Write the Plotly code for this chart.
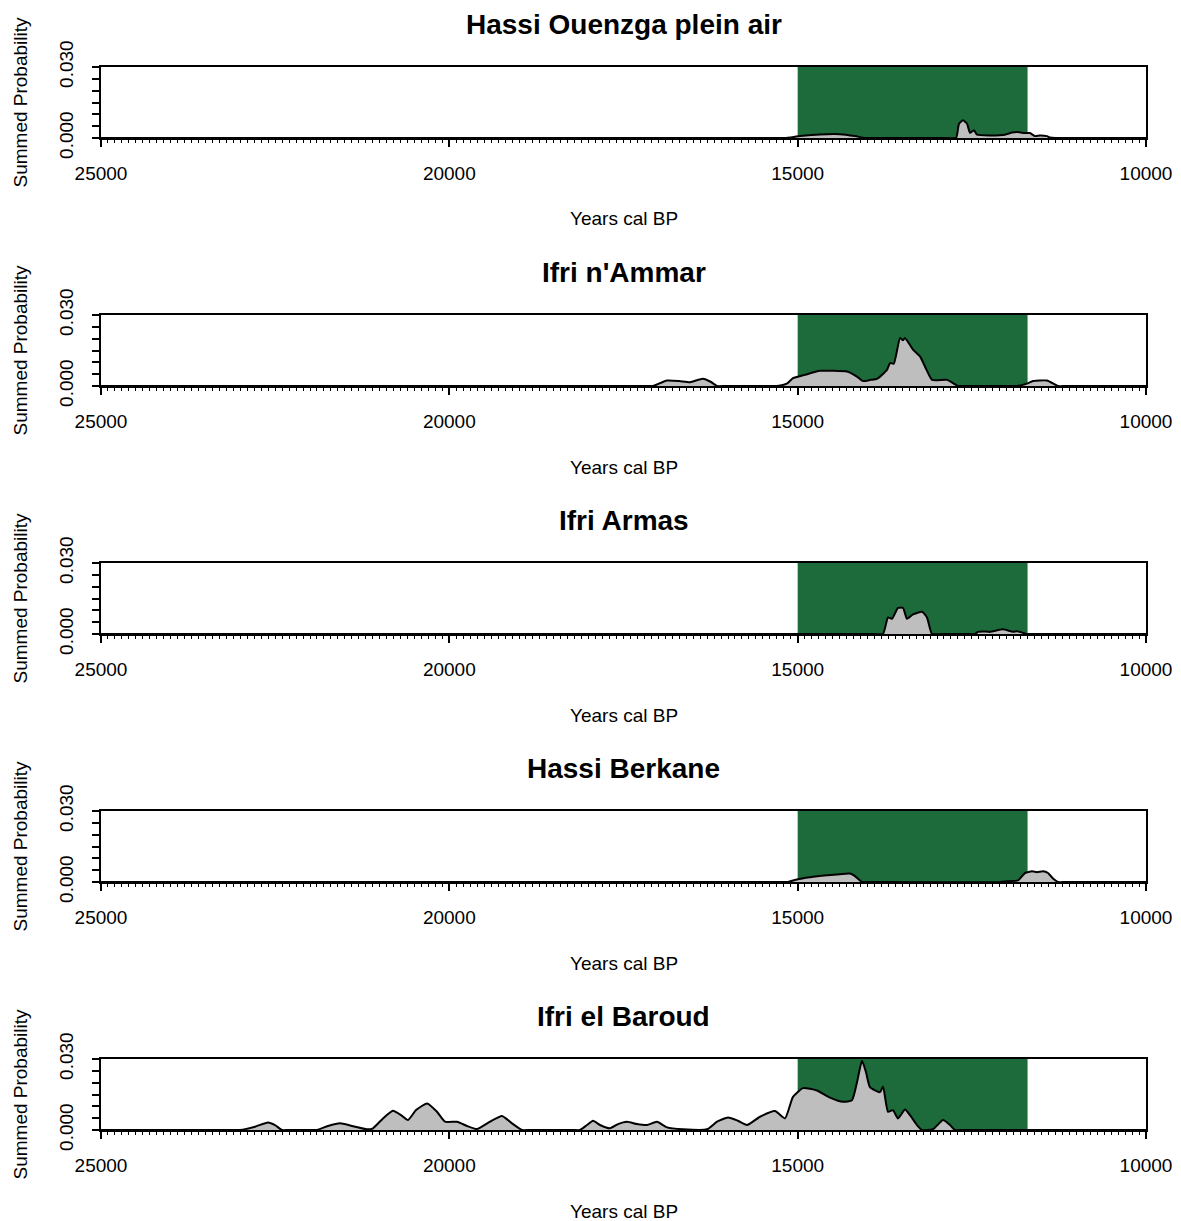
import plotly.graph_objects as go

# ---------------- data (years cal BP, summed probability) ----------------
site_names = ["Hassi Ouenzga plein air", "Ifri n'Ammar", "Ifri Armas", "Hassi Berkane", "Ifri el Baroud"]

ouenzga_years = [25000, 15300, 15182, 14967, 14680, 14392, 14177, 14034, 13900, 12850, 12727, 12684,
                 12627, 12569, 12526, 12469, 12426, 12239, 12024, 11924, 11837, 11766, 11665, 11593,
                 11522, 11421, 11378, 11300, 11180, 10000]
ouenzga_spd = [0, 0, 0, 0.0008, 0.0015, 0.0016, 0.0008, 0, 0, 0, 0, 0.0060,
               0.0075, 0.0060, 0.0022, 0.0033, 0.0014, 0.0011, 0.0014, 0.0023, 0.0025, 0.0021, 0.0021, 0.0008,
               0.0011, 0.0008, 0.0002, 0, 0, 0]

ammar_years = [25000, 17200, 17077, 16876, 16700, 16545, 16359, 16250, 16158, 16050, 15400, 15297,
               15150, 15067, 14900, 14680, 14292, 14150, 14062, 13950, 13861, 13718, 13675, 13620,
               13531, 13488, 13459, 13345, 13244, 13150, 13072, 12857, 12750, 12699, 12600, 11950,
               11852, 11700, 11622, 11421, 11263, 11150, 10000]
ammar_spd = [0, 0, 0, 0.0023, 0.0021, 0.0016, 0.0031, 0.0018, 0, 0, 0, 0,
             0.0011, 0.0033, 0.0047, 0.0064, 0.0061, 0.0040, 0.0021, 0.0026, 0.0030, 0.0068, 0.0097, 0.0094,
             0.0203, 0.0193, 0.0203, 0.0154, 0.0125, 0.0068, 0.0026, 0.0026, 0.0009, 0, 0, 0,
             0, 0.0011, 0.0021, 0.0023, 0, 0, 0]

armas_years = [25000, 13900, 13775, 13703, 13646, 13560, 13488, 13430, 13345, 13215, 13144, 13072,
               12950, 12570, 12455, 12412, 12340, 12239, 12053, 11909, 11852, 11708, 11600, 10000]
armas_spd = [0, 0, 0, 0.0070, 0.0064, 0.0110, 0.0110, 0.0064, 0.0083, 0.0094, 0.0070, 0,
             0, 0, 0, 0.0009, 0.0011, 0.0009, 0.0020, 0.0009, 0.0012, 0, 0, 0]

berkane_years = [25000, 15250, 15139, 15010, 14823, 14579, 14249, 14177, 14077, 13950, 12100, 11995,
                 11837, 11737, 11636, 11565, 11479, 11407, 11335, 11263, 11150, 10000]
berkane_spd = [0, 0, 0, 0.0011, 0.0020, 0.0028, 0.0036, 0.0025, 0, 0, 0, 0.0003,
               0.0007, 0.0038, 0.0045, 0.0041, 0.0045, 0.0038, 0.0015, 0, 0, 0]

baroud_years = [25000, 23120, 23005, 22789, 22603, 22502, 22402, 22300, 22000, 21900, 21742, 21569,
                21397, 21182, 21096, 20952, 20809, 20694, 20593, 20478, 20321, 20177, 20062, 19890,
                19746, 19603, 19416, 19244, 19101, 18957, 18850, 18230, 18124, 18024, 17938, 17837,
                17694, 17579, 17450, 17306, 17163, 17019, 16876, 16646, 16301, 16158, 16000, 15857,
                15727, 15541, 15325, 15182, 15067, 14923, 14723, 14536, 14349, 14220, 14148, 14077,
                14019, 13962, 13818, 13775, 13703, 13632, 13560, 13459, 13388, 13287, 13215, 13058,
                12914, 12813, 12742, 12640, 10000]
baroud_spd = [0, 0, 0, 0.0014, 0.0032, 0.0021, 0, 0, 0, 0, 0.0017, 0.0028,
              0.0017, 0.0003, 0.0007, 0.0049, 0.0081, 0.0063, 0.0042, 0.0084, 0.0112, 0.0077, 0.0035, 0.0035,
              0.0017, 0.0004, 0.0035, 0.0059, 0.0028, 0, 0, 0, 0, 0.0021, 0.0039, 0.0021,
              0.0007, 0.0025, 0.0035, 0.0025, 0.0021, 0.0035, 0.0011, 0.0003, 0.0003, 0.0035, 0.0053, 0.0039,
              0.0021, 0.0056, 0.0080, 0.0049, 0.0140, 0.0177, 0.0167, 0.0137, 0.0119, 0.0126, 0.0202, 0.0293,
              0.0244, 0.0181, 0.0160, 0.0184, 0.0077, 0.0084, 0.0049, 0.0087, 0.0063, 0.0021, 0, 0.0003,
              0.0042, 0.0021, 0, 0, 0]

series_years = [ouenzga_years, ammar_years, armas_years, berkane_years, baroud_years]
series_spd = [ouenzga_spd, ammar_spd, armas_spd, berkane_spd, baroud_spd]

x_range = [25000, 10000]
x_ticks = [25000, 20000, 15000, 10000]
y_range = [0, 0.03]
y_ticks = [0, 0.005, 0.010, 0.015, 0.020, 0.025, 0.030]
y_ticktext = ["0.000", "", "", "", "", "", "0.030"]
period_start, period_end = 15000, 11700

# ---------------- layout geometry (window pixels) ----------------
W, H = 1181, 1221
X0, X1 = 101, 1146
TOPS = [67, 315, 563, 811, 1059]
PH = 71
FONT = "Liberation Sans, Arial, Helvetica, sans-serif"
GREEN = "#1d6a3b"
GREY = "#bebebe"


def px(x):
    return x / W


def py(y):
    return 1 - y / H


fig = go.Figure()
layout = dict(
    width=W, height=H, autosize=False,
    margin=dict(l=0, r=0, t=0, b=0, pad=0, autoexpand=False),
    paper_bgcolor="white", plot_bgcolor="white",
    showlegend=False,
    font=dict(family=FONT, color="black", size=19),
)
shapes = []
annotations = []

for i in range(5):
    n = "" if i == 0 else str(i + 1)
    top = TOPS[i]
    bot = top + PH
    fig.add_trace(go.Scatter(
        x=series_years[i], y=series_spd[i], mode="lines",
        fill="tozeroy", fillcolor=GREY,
        line=dict(color="black", width=2, shape="spline", smoothing=0.5),
        xaxis="x" + n, yaxis="y" + n, hoverinfo="skip",
    ))
    layout["xaxis" + n] = dict(
        domain=[px(X0), px(X1)], anchor="y" + n, automargin=False,
        range=x_range, autorange=False,
        tickmode="array", tickvals=x_ticks, ticktext=[str(t) for t in x_ticks],
        ticks="outside", ticklen=7, tickwidth=1.5, tickcolor="black",
        ticklabelstandoff=10,
        minor=dict(tickmode="linear", tick0=10000, dtick=100, ticks="outside",
                   ticklen=3, tickwidth=1, tickcolor="black"),
        showline=True, linecolor="black", linewidth=1.5, mirror=True,
        showgrid=False, zeroline=False,
        tickfont=dict(family=FONT, size=19, color="black"),
    )
    layout["yaxis" + n] = dict(
        domain=[py(bot), py(top)], anchor="x" + n, automargin=False,
        range=y_range, autorange=False,
        tickmode="array", tickvals=y_ticks, ticktext=y_ticktext,
        ticks="outside", ticklen=7, tickwidth=1.5, tickcolor="black",
        tickangle=-90, ticklabelstandoff=12,
        showline=True, linecolor="black", linewidth=1.5, mirror=True,
        showgrid=False, zeroline=False,
        tickfont=dict(family=FONT, size=19, color="black"),
    )
    shapes.append(dict(
        type="rect", xref="x" + n, yref="y" + n,
        x0=period_start, x1=period_end, y0=0, y1=0.03,
        fillcolor=GREEN, line=dict(width=0), layer="below",
    ))
    cx = px((X0 + X1) / 2)
    annotations.append(dict(
        text="<b>" + site_names[i] + "</b>", xref="paper", yref="paper",
        x=cx, y=py(top - 43), xanchor="center", yanchor="middle",
        showarrow=False, font=dict(family=FONT, size=28, color="black"),
    ))
    annotations.append(dict(
        text="Years cal BP", xref="paper", yref="paper",
        x=cx, y=py(top + 152), xanchor="center", yanchor="middle",
        showarrow=False, font=dict(family=FONT, size=19, color="black"),
    ))
    annotations.append(dict(
        text="Summed Probability", xref="paper", yref="paper",
        x=px(20), y=py(top + PH / 2), xanchor="center", yanchor="middle",
        textangle=-90, showarrow=False, font=dict(family=FONT, size=19, color="black"),
    ))

layout["shapes"] = shapes
layout["annotations"] = annotations
fig.update_layout(**layout)
fig.write_html(
    "out.html",
    config={"displayModeBar": False},
    post_script="document.body.style.margin='0';document.body.style.overflow='hidden';",
)
